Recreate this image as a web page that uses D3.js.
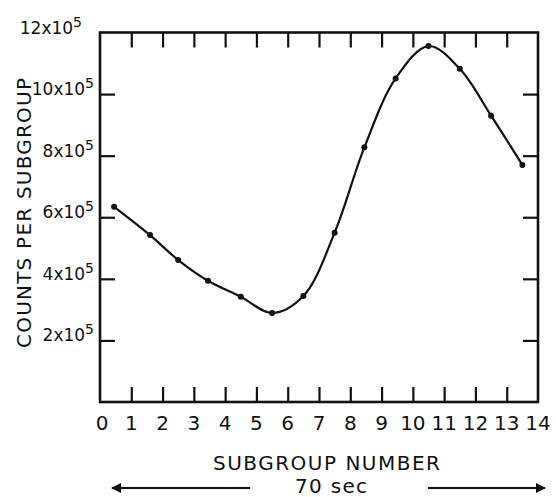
<!DOCTYPE html>
<html>
<head>
<meta charset="utf-8">
<script src="https://cdn.jsdelivr.net/npm/d3@7"></script>
<style>
  html, body { margin: 0; padding: 0; background: #fff; }
  svg { display: block; }
  text { font-family: "DejaVu Sans", sans-serif; fill: #111; }
</style>
</head>
<body>
<svg id="chart" width="556" height="497"></svg>
<script>
// ---- data ----
const subgroups = [0.45, 1.6, 2.5, 3.45, 4.5, 5.5, 6.5, 7.5, 8.45, 9.45, 10.5, 11.5, 12.5, 13.5];
const counts = [634000, 542000, 461000, 394000, 342000, 289000, 344000, 550000, 827000, 1051000, 1156000, 1082000, 930000, 770000];
const xTickLabels = ["0","1","2","3","4","5","6","7","8","9","10","11","12","13","14"];
const yTickValues = [200000, 400000, 600000, 800000, 1000000, 1200000];
const yTickMantissa = ["2", "4", "6", "8", "10", "12"];
const xTitle = "SUBGROUP NUMBER";
const yTitle = "COUNTS PER SUBGROUP";
const spanLabel = "70 sec";

// ---- layout ----
const svg = d3.select("#chart");
const x = d3.scaleLinear().domain([0, 14]).range([100, 538]);
const y = d3.scaleLinear().domain([0, 1200000]).range([402, 32.5]);
const tickLen = 15;
const ink = "#111";

// inner ticks (bottom/top)
const xTickVals = d3.range(1, 14);
svg.append("g").attr("transform", `translate(0,${y(0)})`)
  .call(d3.axisBottom(x).tickValues(xTickVals).tickSize(-tickLen).tickFormat(""))
  .call(g => g.select(".domain").remove())
  .call(g => g.selectAll("line").attr("stroke", ink).attr("stroke-width", 2.2));
svg.append("g").attr("transform", `translate(0,${y(1200000)})`)
  .call(d3.axisTop(x).tickValues(xTickVals).tickSize(-tickLen).tickFormat(""))
  .call(g => g.select(".domain").remove())
  .call(g => g.selectAll("line").attr("stroke", ink).attr("stroke-width", 2.2));
// inner ticks (left/right)
const yInner = yTickValues.filter(v => v < 1200000);
svg.append("g").attr("transform", `translate(${x(0)},0)`)
  .call(d3.axisLeft(y).tickValues(yInner).tickSize(-tickLen).tickFormat(""))
  .call(g => g.select(".domain").remove())
  .call(g => g.selectAll("line").attr("stroke", ink).attr("stroke-width", 2.2));
svg.append("g").attr("transform", `translate(${x(14)},0)`)
  .call(d3.axisRight(y).tickValues(yInner).tickSize(-tickLen).tickFormat(""))
  .call(g => g.select(".domain").remove())
  .call(g => g.selectAll("line").attr("stroke", ink).attr("stroke-width", 2.2));

// frame
svg.append("rect")
  .attr("x", x(0)).attr("y", y(1200000))
  .attr("width", x(14) - x(0)).attr("height", y(0) - y(1200000))
  .attr("fill", "none").attr("stroke", ink).attr("stroke-width", 2.6);

// x tick labels
svg.append("g").selectAll("text").data(xTickLabels).join("text")
  .attr("x", (d, i) => x(i) + (i === 0 ? 2 : 0))
  .attr("y", 430)
  .attr("text-anchor", "middle")
  .attr("font-size", 20)
  .text(d => d);

// y tick labels with superscript
const yl = svg.append("g").selectAll("text").data(yTickValues).join("text")
  .attr("x", (d, i) => i === yTickValues.length - 1 ? 82 : 94)
  .attr("y", d => y(d) + 1)
  .attr("text-anchor", "end")
  .attr("font-size", 17);
yl.append("tspan").text((d, i) => yTickMantissa[i] + "x10");
yl.append("tspan").attr("dy", -7).attr("font-size", 14).text("5");

// y title
svg.append("text")
  .attr("transform", `translate(31,213) rotate(-90)`)
  .attr("text-anchor", "middle")
  .attr("font-size", 20)
  .attr("textLength", 270).attr("lengthAdjust", "spacing")
  .text(yTitle);

// x title
svg.append("text")
  .attr("x", 326.5).attr("y", 470)
  .attr("text-anchor", "middle")
  .attr("font-size", 20)
  .attr("textLength", 227).attr("lengthAdjust", "spacing")
  .text(xTitle);

// span label + arrows
svg.append("text")
  .attr("x", 331).attr("y", 493)
  .attr("text-anchor", "middle")
  .attr("font-size", 20)
  .attr("textLength", 72).attr("lengthAdjust", "spacing")
  .text(spanLabel);

const defs = svg.append("defs");
defs.append("marker").attr("id", "ah")
  .attr("viewBox", "0 0 10 10").attr("refX", 9).attr("refY", 5)
  .attr("markerWidth", 14).attr("markerHeight", 10).attr("markerUnits", "userSpaceOnUse")
  .attr("orient", "auto")
  .append("path").attr("d", "M0,0 L10,5 L0,10 Z").attr("fill", ink);

svg.append("line").attr("x1", 250).attr("y1", 488).attr("x2", 112).attr("y2", 488)
  .attr("stroke", ink).attr("stroke-width", 2).attr("marker-end", "url(#ah)");
svg.append("line").attr("x1", 428).attr("y1", 488).attr("x2", 545).attr("y2", 488)
  .attr("stroke", ink).attr("stroke-width", 2).attr("marker-end", "url(#ah)");

// curve + points
const pts = subgroups.map((s, i) => [s, counts[i]]);
const line = d3.line().x(d => x(d[0])).y(d => y(d[1])).curve(d3.curveCatmullRom.alpha(0.5));
svg.append("path").datum(pts).attr("d", line)
  .attr("fill", "none").attr("stroke", ink).attr("stroke-width", 2.2);
svg.append("g").selectAll("circle").data(pts).join("circle")
  .attr("cx", d => x(d[0])).attr("cy", d => y(d[1])).attr("r", 3).attr("fill", ink);
</script>
</body>
</html>
